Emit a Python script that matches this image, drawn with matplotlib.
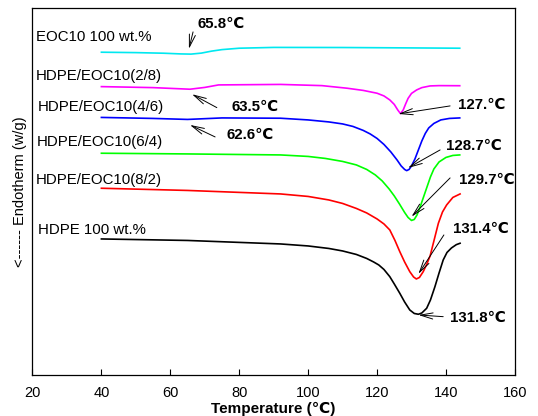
import matplotlib
matplotlib.use("Agg")
import matplotlib.pyplot as plt

plt.rcParams['font.family'] = ['Liberation Sans', 'DejaVu Sans']

# ---- data (temperature in C, heat flow in arbitrary offset units) ----
T_eoc = [40, 50, 58, 63, 66, 69, 72, 75, 80, 90, 110, 130, 144]
H_eoc = [322.7, 322.3, 321.7, 321, 320.8, 321.8, 323.8, 325.3, 326.7, 327.5, 327.4, 327, 326.7]

T_28 = [40, 55, 65.7, 70, 74, 92, 104, 111.3, 116, 120, 122, 123.7, 125, 126, 126.8,
        127.6, 128.3, 129, 130, 131.5, 133, 135.4, 138, 144]
H_28 = [288.3, 287.3, 285.7, 287.5, 290, 290.5, 289.3, 286.7, 284.5, 281.7, 279, 275, 270.5,
        265, 261.3, 265, 271, 276.5, 281.5, 285, 287.3, 289, 289.3, 289.2]

T_46 = [40, 55, 65, 75, 92, 100, 106, 110, 113, 116, 118, 120, 122, 124, 125.8, 127, 128,
        128.6, 129.3, 130, 131, 132, 133, 134, 135, 136.5, 138.5, 141, 144]
H_46 = [257.5, 256.5, 255.5, 257, 256.7, 255, 253, 251, 248.5, 244.5, 241, 236.5, 230.5,
        223, 215, 209, 205.5, 204.3, 205.5, 209, 216, 225, 234, 241.5, 247, 251.5, 255,
        256.5, 257]

T_64 = [40, 65, 92, 100, 105, 110, 114, 117, 119.5, 121.5, 123.5, 125, 126.5, 128, 129,
        130, 130.8, 131.6, 132.5, 133.5, 134.5, 135.5, 136.5, 138, 140, 142, 144]
H_64 = [221.7, 221, 220, 218.5, 216.5, 213.5, 210, 205.5, 200, 194, 186, 179, 171, 162.5,
        157.5, 154.5, 155.5, 160, 168, 178, 188, 198, 206, 213, 217.5, 219.5, 220]

T_82 = [40, 65, 92, 100, 106, 110, 114, 117, 120, 122, 123.7, 125.2, 126.6, 128, 129.5,
        130.6, 131.4, 132.3, 133.4, 134.4, 135.4, 136.5, 137.8, 139, 140.2, 142, 144.1]
H_82 = [186.7, 184.5, 181, 178.5, 175, 171.5, 166.5, 162, 156, 151, 145, 134.5, 123.3,
        113, 103.3, 98, 96, 97.5, 103.3, 110.5, 119, 134, 151.7, 163, 170, 177.5, 181]

T_hdpe = [40, 65, 92, 100, 106, 110, 114, 117, 119, 120.5, 122, 123.7, 125, 126.6, 128,
          129.5, 130.8, 132, 133, 134.4, 135.5, 136.8, 138, 139.2, 140.3, 141.6, 143, 144.1]
H_hdpe = [136, 134.5, 131, 129, 126.5, 124, 120.5, 116.5, 113, 110, 105.5, 98.3, 91,
          81.7, 73, 65, 61.5, 60.7, 62, 66.7, 75, 88.3, 102, 115, 122.5, 127, 130.3, 131.7]

series_labels = ["EOC10 100 wt.%", "HDPE/EOC10(2/8)", "HDPE/EOC10(4/6)",
                 "HDPE/EOC10(6/4)", "HDPE/EOC10(8/2)", "HDPE 100 wt.%"]
peak_labels = ["65.8\u2103", "63.5\u2103", "62.6\u2103", "127.\u2103",
               "128.7\u2103", "129.7\u2103", "131.4\u2103", "131.8\u2103"]
x_ticks = [20, 40, 60, 80, 100, 120, 140, 160]

colors = ['#00E8F0', '#FF00FF', '#0000FF', '#00FF00', '#FF0000', '#000000']

fig = plt.figure(figsize=(5.38, 4.16), dpi=100)
ax = fig.add_axes([0.0604, 0.0986, 0.8966, 0.8824])

curves = [(T_eoc, H_eoc), (T_28, H_28), (T_46, H_46), (T_64, H_64), (T_82, H_82), (T_hdpe, H_hdpe)]
for (t, h), c in zip(curves, colors):
    ax.plot(t, h, color=c, lw=1.2, solid_joinstyle='round')

ax.set_xlim(20, 160)
ax.set_ylim(0, 367)
ax.set_xticks(x_ticks)
ax.set_yticks([])
ax.tick_params(axis='x', direction='in', length=4, width=0.8, labelsize=10.5, pad=8)
for s in ax.spines.values():
    s.set_linewidth(0.9)

# series labels
lab_pos = [(21.0, 338), (21.0, 299), (21.6, 268), (21.3, 233), (21.0, 195), (21.6, 145)]
for txt, (x, y) in zip(series_labels, lab_pos):
    ax.text(x, y, txt, fontsize=10.8, va='center', ha='left')

# peak annotations
ann = [
    ((68.0, 351), (66.6, 343), (65.4, 326)),
    ((77.9, 268), (73.5, 267.3), (66.3, 280.7)),
    ((76.4, 240), (73.0, 238), (65.7, 250)),
    ((143.5, 270), (141.2, 269), (126.2, 261)),
    ((140.0, 229.3), (138.3, 225), (129.0, 207)),
    ((143.8, 195), (141.2, 197), (130.0, 158.3)),
    ((142.0, 146), (139.4, 140), (132.0, 101)),
    ((141.2, 57), (139.2, 58.3), (132.0, 60)),
]
for txt, (tp, start, tip) in zip(peak_labels, ann):
    ax.text(tp[0], tp[1], txt, fontsize=10.8, fontweight='bold', va='center', ha='left')
    ax.annotate('', xy=tip, xytext=start,
                arrowprops=dict(arrowstyle='->,head_length=0.9,head_width=0.22',
                                lw=0.7, color='black', shrinkA=0, shrinkB=0))

ax.set_xlabel("Temperature (\u2103)", fontsize=11, fontweight='bold', labelpad=1)
ax.set_ylabel("<------ Endotherm (w/g)", fontsize=10.5, labelpad=4)

fig.savefig("out.png", dpi=100)
